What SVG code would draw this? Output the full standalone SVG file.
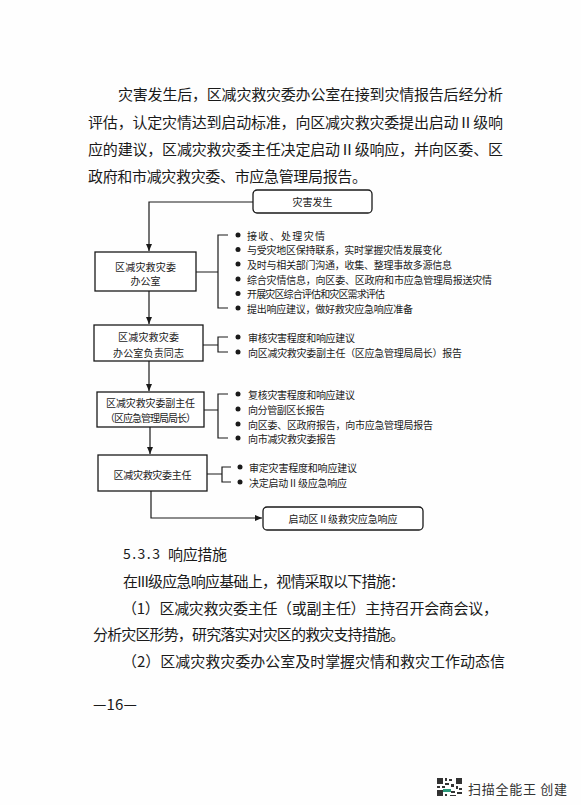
<svg xmlns="http://www.w3.org/2000/svg" width="581" height="805" viewBox="0 0 581 805">
<style>
text{font-family:"Noto Sans CJK SC","Liberation Serif",sans-serif;fill:#1a1a1a;dominant-baseline:central}
.body{font-size:15px}
.fc{font-size:10px}
.box{fill:#fff;stroke:#1a1a1a;stroke-width:1.3}
.con{fill:none;stroke:#1a1a1a;stroke-width:1.2}
.dot{fill:#1a1a1a}
.mid{text-anchor:middle}
</style>
<defs>
<marker id="arr" markerWidth="8" markerHeight="8" refX="7" refY="4" orient="auto" markerUnits="userSpaceOnUse">
<path d="M0,1 L7,4 L0,7 Z" fill="#1a1a1a"/>
</marker>
</defs>
<rect width="581" height="805" fill="#fefefe"/>

<g id="intro">
<text class="body" x="118" y="93" textLength="385" lengthAdjust="spacing">灾害发生后，区减灾救灾委办公室在接到灾情报告后经分析</text>
<text class="body" x="88" y="121" textLength="415" lengthAdjust="spacing">评估，认定灾情达到启动标准，向区减灾救灾委提出启动Ⅱ级响</text>
<text class="body" x="88" y="148" textLength="415" lengthAdjust="spacing">应的建议，区减灾救灾委主任决定启动Ⅱ级响应，并向区委、区</text>
<text class="body" x="88" y="175" textLength="279" lengthAdjust="spacing">政府和市减灾救灾委、市应急管理局报告。</text>
</g>

<g id="connectors">
<path class="con" d="M253,202 H149 V251" marker-end="url(#arr)"/>
<path class="con" d="M149,291 V324" marker-end="url(#arr)"/>
<path class="con" d="M149,361 V391" marker-end="url(#arr)"/>
<path class="con" d="M150,427 V454" marker-end="url(#arr)"/>
<path class="con" d="M151,491 V518 H262" marker-end="url(#arr)"/>
<path class="con" d="M196,272 H218 M228,235 H218 V308 H228"/>
<path class="con" d="M203,345 H218 M228,337 H218 V352 H228"/>
<path class="con" d="M204,410 H218 M228,394 H218 V438 H228"/>
<path class="con" d="M207,474 H222 M231,467 H222 V482 H231"/>
</g>

<g id="n-start">
<rect class="box" x="253" y="190" width="119" height="23" rx="4"/>
<text class="fc mid" x="312.5" y="201.5">灾害发生</text>
</g>

<g id="n-office">
<rect class="box" x="95" y="252" width="101" height="39"/>
<text class="fc mid" x="145.5" y="266" textLength="61" lengthAdjust="spacing">区减灾救灾委</text>
<text class="fc mid" x="145.5" y="280">办公室</text>
</g>
<g id="n-office-items">
<circle class="dot" cx="238" cy="235" r="2.5"/>
<circle class="dot" cx="238" cy="249.5" r="2.5"/>
<circle class="dot" cx="238" cy="264" r="2.5"/>
<circle class="dot" cx="238" cy="279" r="2.5"/>
<circle class="dot" cx="238" cy="293.5" r="2.5"/>
<circle class="dot" cx="238" cy="308" r="2.5"/>
<text class="fc" x="247" y="235" textLength="78" lengthAdjust="spacing">接收、处理灾情</text>
<text class="fc" x="247" y="249.5" textLength="195" lengthAdjust="spacing">与受灾地区保持联系，实时掌握灾情发展变化</text>
<text class="fc" x="247" y="264" textLength="205" lengthAdjust="spacing">及时与相关部门沟通，收集、整理事故多源信息</text>
<text class="fc" x="247" y="279" textLength="245" lengthAdjust="spacing">综合灾情信息，向区委、区政府和市应急管理局报送灾情</text>
<text class="fc" x="247" y="293.5" textLength="138" lengthAdjust="spacing">开展灾区综合评估和灾区需求评估</text>
<text class="fc" x="247" y="308" textLength="166" lengthAdjust="spacing">提出响应建议，做好救灾应急响应准备</text>
</g>

<g id="n-head">
<rect class="box" x="94" y="325" width="109" height="36"/>
<text class="fc mid" x="148.5" y="336.5" textLength="61" lengthAdjust="spacing">区减灾救灾委</text>
<text class="fc mid" x="148.5" y="352" textLength="71" lengthAdjust="spacing">办公室负责同志</text>
</g>
<g id="n-head-items">
<circle class="dot" cx="238" cy="337" r="2.5"/>
<circle class="dot" cx="238" cy="352" r="2.5"/>
<text class="fc" x="248" y="337" textLength="107" lengthAdjust="spacing">审核灾害程度和响应建议</text>
<text class="fc" x="248" y="352" textLength="214" lengthAdjust="spacing">向区减灾救灾委副主任（区应急管理局局长）报告</text>
</g>

<g id="n-vice">
<rect class="box" x="97" y="392" width="107" height="35"/>
<text class="fc mid" x="150.5" y="402" textLength="89" lengthAdjust="spacing">区减灾救灾委副主任</text>
<text class="fc mid" x="150.5" y="417" textLength="91" lengthAdjust="spacing">（区应急管理局局长）</text>
</g>
<g id="n-vice-items">
<circle class="dot" cx="238" cy="394" r="2.5"/>
<circle class="dot" cx="238" cy="409" r="2.5"/>
<circle class="dot" cx="238" cy="424" r="2.5"/>
<circle class="dot" cx="238" cy="438" r="2.5"/>
<text class="fc" x="248" y="394" textLength="107" lengthAdjust="spacing">复核灾害程度和响应建议</text>
<text class="fc" x="248" y="409" textLength="77" lengthAdjust="spacing">向分管副区长报告</text>
<text class="fc" x="248" y="424" textLength="185" lengthAdjust="spacing">向区委、区政府报告，向市应急管理局报告</text>
<text class="fc" x="248" y="438" textLength="88" lengthAdjust="spacing">向市减灾救灾委报告</text>
</g>

<g id="n-director">
<rect class="box" x="98" y="455" width="109" height="36"/>
<text class="fc mid" x="152.5" y="474" textLength="78" lengthAdjust="spacing">区减灾救灾委主任</text>
</g>
<g id="n-director-items">
<circle class="dot" cx="240" cy="467" r="2.5"/>
<circle class="dot" cx="240" cy="482" r="2.5"/>
<text class="fc" x="249" y="467" textLength="108" lengthAdjust="spacing">审定灾害程度和响应建议</text>
<text class="fc" x="249" y="482" textLength="98" lengthAdjust="spacing">决定启动Ⅱ级应急响应</text>
</g>

<g id="n-launch">
<rect class="box" x="263" y="507" width="160" height="23" rx="4"/>
<text class="fc mid" x="343" y="518.5" textLength="109" lengthAdjust="spacing">启动区Ⅱ级救灾应急响应</text>
</g>

<g id="section">
<text class="body" x="123" y="553" style="font-size:14px" textLength="37" lengthAdjust="spacing">5.3.3</text>
<text class="body" x="168" y="553" textLength="59" lengthAdjust="spacing">响应措施</text>
<text class="body" x="123" y="580" textLength="282" lengthAdjust="spacing">在III级应急响应基础上，视情采取以下措施：</text>
<text class="body" x="122" y="607" textLength="376" lengthAdjust="spacing">（1）区减灾救灾委主任（或副主任）主持召开会商会议，</text>
<text class="body" x="93" y="633" textLength="312" lengthAdjust="spacing">分析灾区形势，研究落实对灾区的救灾支持措施。</text>
<text class="body" x="122" y="660" textLength="383" lengthAdjust="spacing">（2）区减灾救灾委办公室及时掌握灾情和救灾工作动态信</text>
<text class="body" x="93" y="703" textLength="44" lengthAdjust="spacing">—16—</text>
</g>

<g id="footer">
<rect x="437" y="778" width="25" height="18" fill="#fff"/>
<g fill="#333">
<rect x="437" y="778" width="6" height="6"/><rect x="456" y="778" width="6" height="6"/><rect x="437" y="790" width="6" height="6"/>
<rect x="445" y="778" width="2" height="3"/><rect x="449" y="779" width="3" height="2"/><rect x="445" y="783" width="4" height="2"/>
<rect x="451" y="784" width="3" height="3"/><rect x="437" y="786" width="3" height="2"/><rect x="442" y="786" width="3" height="2"/>
<rect x="456" y="786" width="2" height="3"/><rect x="459" y="788" width="3" height="2"/><rect x="446" y="789" width="3" height="3"/>
<rect x="451" y="791" width="4" height="2"/><rect x="457" y="792" width="5" height="2"/><rect x="445" y="794" width="2" height="2"/><rect x="450" y="795" width="6" height="1"/>
</g>
<rect x="443" y="789" width="8" height="3" fill="#2a9a7a"/>
<text x="468" y="788" style="font-size:13px;fill:#333" textLength="99" lengthAdjust="spacing">扫描全能王 创建</text>
</g>
</svg>
